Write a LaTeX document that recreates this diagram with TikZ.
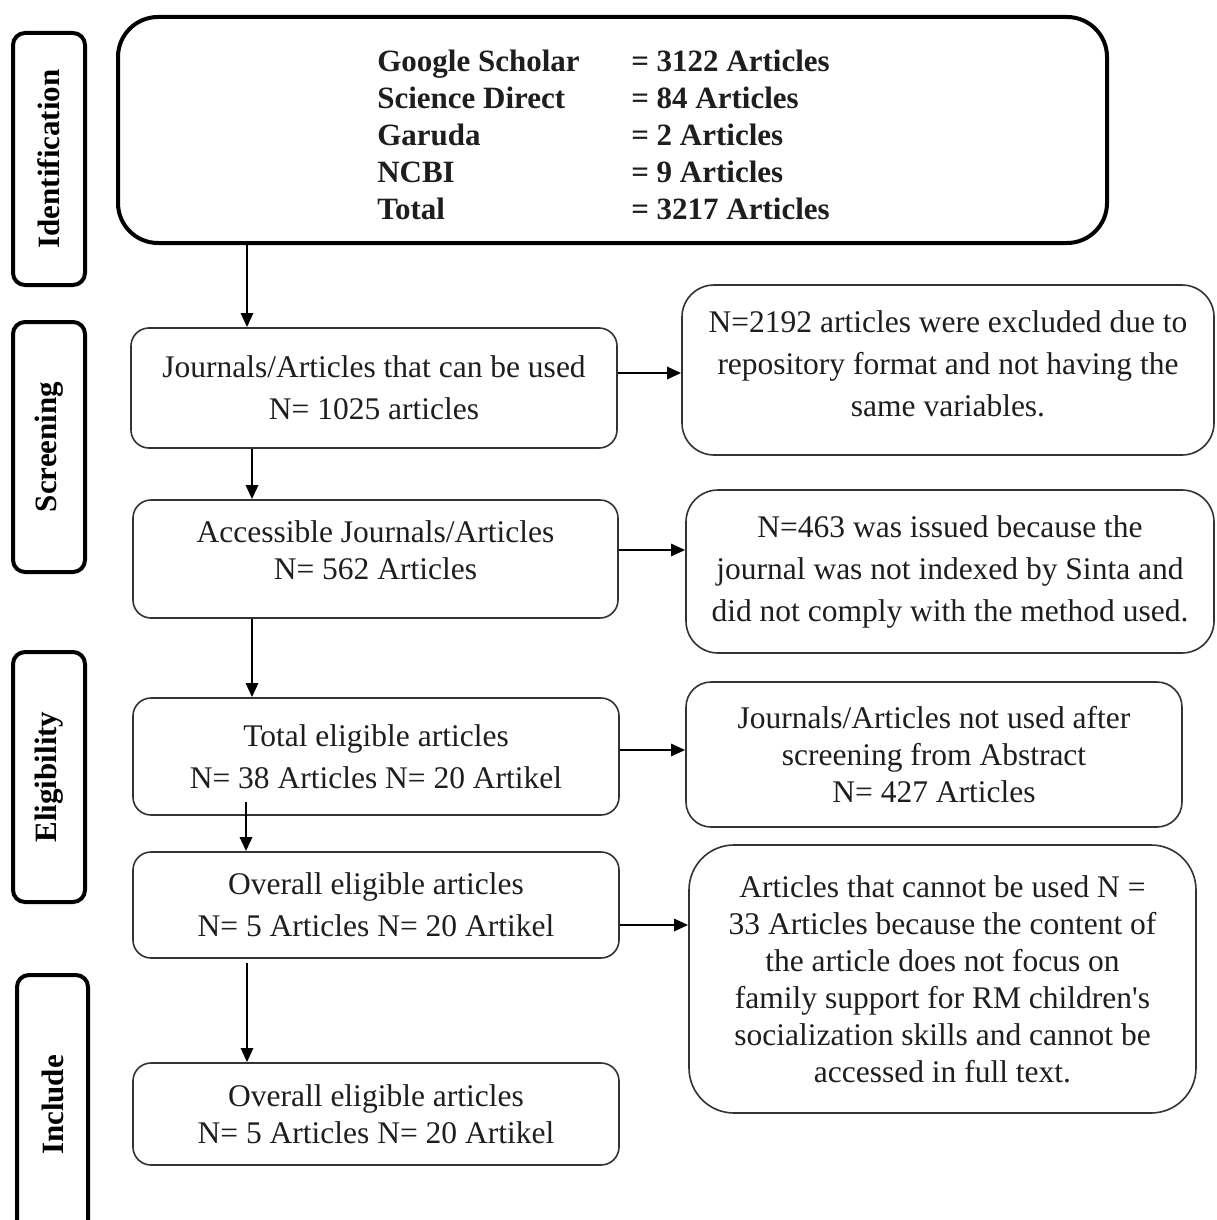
\documentclass[tikz,border=0pt]{standalone}
\usepackage{fontspec}
\setmainfont{Liberation Serif}
\usetikzlibrary{arrows.meta}
\definecolor{ink}{HTML}{1E1E1E}
\definecolor{edge}{HTML}{333333}
\begin{document}
\begin{tikzpicture}[x=1pt,y=-1pt,
  sidebox/.style={draw=black, line width=4pt, rounded corners=12pt, rotate=90,
    minimum height=72pt, inner sep=0pt, text=black,
    font=\fontsize{31}{34}\selectfont\bfseries},
  box/.style={draw=edge, line width=1.6pt, rounded corners=18pt, inner sep=0pt,
    align=center, text=ink},
  spA/.style={font=\fontsize{31.5}{42}\selectfont},
  spB/.style={font=\fontsize{31.5}{37}\selectfont},
  arr/.style={draw=black, line width=2.6pt, -{Triangle[length=14pt,width=12pt]}}
]
\useasboundingbox (0,0) rectangle (1217,1220);
\fill[white] (0,0) rectangle (1217,1220);
\clip (0,0) rectangle (1217,1220);

% stage labels
\node[sidebox, minimum width=252pt] (sid) at (49,159) {Identification};
\node[sidebox, minimum width=250pt] (ssc) at (49,447) {Screening};
\node[sidebox, minimum width=250pt] (sel) at (49,777) {Eligibility};
\node[sidebox, minimum width=260pt, minimum height=71pt] (sin) at (52.5,1105) {Include};

% top box
\node[draw=black, line width=4pt, rounded corners=40pt, minimum width=989pt,
  minimum height=226pt, inner sep=0pt, text=ink,
  font=\fontsize{31}{37}\selectfont\bfseries] (top) at (612.5,130)
  {\raisebox{-8pt}[\height][\depth]{\begin{tabular}{@{}p{254pt}@{}l@{}}
  Google Scholar & = 3122 Articles\\
  Science Direct & = 84 Articles\\
  Garuda & = 2 Articles\\
  NCBI & = 9 Articles\\
  Total & = 3217 Articles
  \end{tabular}}\hspace*{18pt}};

% main column
\node[box, spA, minimum width=486pt, minimum height=120pt] (A) at (374,388)
  {Journals/Articles that can be used\\N= 1025 articles};
\node[box, spB, minimum width=485pt, minimum height=118pt] (B) at (375.5,559)
  {\raisebox{5pt}[\height][\depth]{\begin{tabular}{@{}c@{}}Accessible Journals/Articles\\N= 562 Articles\end{tabular}}};
\node[box, spA, minimum width=486pt, minimum height=117pt] (C) at (376,756.5)
  {Total eligible articles\\N= 38 Articles N= 20 Artikel};
\node[box, spA, minimum width=486pt, minimum height=106pt] (D) at (376,905)
  {Overall eligible articles\\N= 5 Articles N= 20 Artikel};
\node[box, spB, minimum width=486pt, minimum height=102pt] (E) at (376,1114)
  {Overall eligible articles\\N= 5 Articles N= 20 Artikel};

% exclusion boxes
\node[box, spA, rounded corners=32pt, minimum width=532pt, minimum height=170pt] (R1) at (948,370)
  {\raisebox{4pt}[\height][\depth]{\begin{tabular}{@{}c@{}}N=2192 articles were excluded due to\\repository format and not having the\\same variables.\end{tabular}}};
\node[box, spA, rounded corners=32pt, minimum width=528pt, minimum height=163pt] (R2) at (950,571.5)
  {N=463 was issued because the\\journal was not indexed by Sinta and\\did not comply with the method used.};
\node[box, spB, rounded corners=25pt, minimum width=496pt, minimum height=145pt] (R3) at (934,754.5)
  {Journals/Articles not used after\\screening from Abstract\\N= 427 Articles};
\node[box, spB, rounded corners=45pt, minimum width=507pt, minimum height=268pt] (R4) at (942.5,979)
  {Articles that cannot be used N =\\33 Articles because the content of\\the article does not focus on\\family support for RM children\textquotesingle s\\socialization skills and cannot be\\accessed in full text.};

% connector guides
\coordinate (x247) at (247,0);
\coordinate (x252) at (252,0);
\coordinate (x246) at (246,0);
\coordinate (y1) at (0,373);
\coordinate (y2) at (0,550);
\coordinate (y3) at (0,750);
\coordinate (y4) at (0,925);
\coordinate (c3) at (246,802);
\coordinate (d3) at (247,963);

\draw[arr] (top.south -| x247) -- (A.north -| x247);
\draw[arr] (A.south -| x252) -- (B.north -| x252);
\draw[arr] (B.south -| x252) -- (C.north -| x252);
\draw[arr] (c3) -- (D.north -| x246);
\draw[arr] (d3) -- (E.north -| x247);

\draw[arr] (A.east |- y1) -- (R1.west |- y1);
\draw[arr] (B.east |- y2) -- (R2.west |- y2);
\draw[arr] (C.east |- y3) -- (R3.west |- y3);
\draw[arr] (D.east |- y4) -- (R4.west |- y4);
\end{tikzpicture}
\end{document}
